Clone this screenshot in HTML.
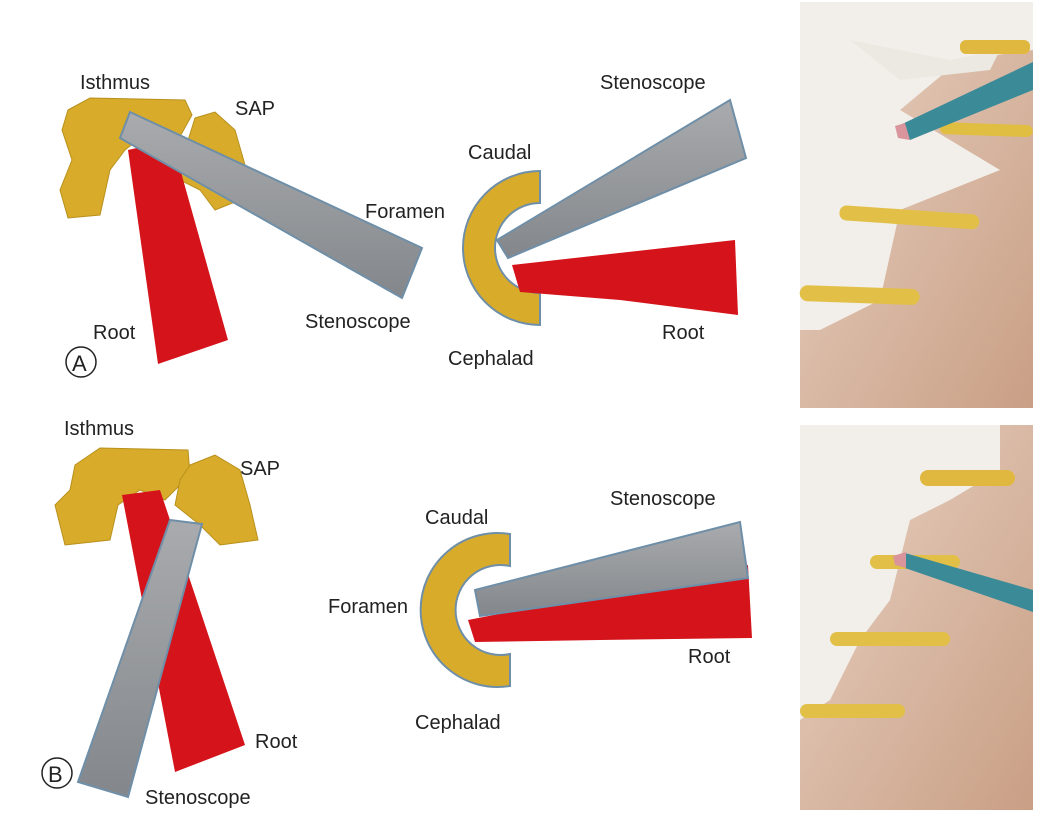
<!DOCTYPE html>
<html><head><meta charset="utf-8"><style>
html,body{margin:0;padding:0;background:#fff;}
svg{display:block;}
text{font-family:"Liberation Sans",sans-serif;font-size:20px;fill:#222;}
</style></head><body>
<svg width="1039" height="819" viewBox="0 0 1039 819" xmlns="http://www.w3.org/2000/svg">
<defs>
<linearGradient id="bg1" x1="0" y1="0" x2="1" y2="1"><stop offset="0" stop-color="#e9d3c4"/><stop offset="1" stop-color="#c99f85"/></linearGradient>
<linearGradient id="gr" x1="0" y1="0" x2="0" y2="1"><stop offset="0" stop-color="#a9abae"/><stop offset="1" stop-color="#83878b"/></linearGradient>
</defs>
<rect width="1039" height="819" fill="#fff"/>

<!-- Panel A left -->
<path d="M68,110 L90,98 L185,100 L192,115 L178,140 L150,130 L125,150 L110,170 L100,215 L68,218 L60,190 L72,160 L62,130 Z" fill="#d8ac2a" stroke="#b8901c"/>
<path d="M195,118 L215,112 L235,130 L245,165 L240,200 L215,210 L200,190 L180,180 L185,150 Z" fill="#d8ac2a" stroke="#b8901c"/>
<path d="M128,150 L172,140 L228,340 L158,364 Z" fill="#d4141a"/>
<path d="M130,112 L422,248 L402,298 L120,138 Z" fill="url(#gr)" stroke="#6f8fa8" stroke-width="2"/>
<text x="80" y="89">Isthmus</text>
<text x="235" y="115">SAP</text>
<text x="365" y="218">Foramen</text>
<text x="305" y="328">Stenoscope</text>
<text x="93" y="339">Root</text>
<circle cx="81" cy="362" r="15" fill="#fff" stroke="#222" stroke-width="1.5"/>
<text x="72" y="371" style="font-size:22px">A</text>

<!-- Panel A middle -->
<path d="M540,171 A77,77 0 1 0 540,325 L540,293 A45,45 0 1 1 540,203 Z" fill="#d8ac2a" stroke="#6f8fa8" stroke-width="2"/>
<path d="M497,240 L730,100 L746,158 L508,258 Z" fill="url(#gr)" stroke="#6f8fa8" stroke-width="2"/>
<path d="M512,265 L735,240 L738,315 L620,300 L520,292 Z" fill="#d4141a"/>
<text x="600" y="89">Stenoscope</text>
<text x="468" y="159">Caudal</text>
<text x="662" y="339">Root</text>
<text x="448" y="365">Cephalad</text>

<!-- Panel B left -->
<path d="M75,465 L100,448 L188,450 L190,475 L165,500 L140,490 L118,505 L110,540 L65,545 L55,505 L70,490 Z" fill="#d8ac2a" stroke="#b8901c"/>
<path d="M190,465 L215,455 L240,470 L250,505 L258,540 L220,545 L200,525 L175,505 L180,480 Z" fill="#d8ac2a" stroke="#b8901c"/>
<path d="M122,495 L160,490 L245,745 L175,772 Z" fill="#d4141a"/>
<path d="M170,520 L202,524 L128,797 L78,782 Z" fill="url(#gr)" stroke="#6f8fa8" stroke-width="2"/>
<text x="64" y="435">Isthmus</text>
<text x="240" y="475">SAP</text>
<text x="255" y="748">Root</text>
<text x="145" y="804">Stenoscope</text>
<circle cx="57" cy="773" r="15" fill="#fff" stroke="#222" stroke-width="1.5"/>
<text x="48" y="782" style="font-size:22px">B</text>

<!-- Panel B middle -->
<path d="M510,534 A77,77 0 1 0 510,686 L510,654 A45,45 0 1 1 510,566 Z" fill="#d8ac2a" stroke="#6f8fa8" stroke-width="2"/>
<path d="M468,620 L748,565 L752,638 L600,640 L475,642 Z" fill="#d4141a"/>
<path d="M475,590 L740,522 L748,578 L480,616 Z" fill="url(#gr)" stroke="#6f8fa8" stroke-width="2"/>
<text x="425" y="524">Caudal</text>
<text x="610" y="505">Stenoscope</text>
<text x="328" y="613">Foramen</text>
<text x="688" y="663">Root</text>
<text x="415" y="729">Cephalad</text>

<!-- Photo top -->
<rect x="800" y="2" width="233" height="406" fill="url(#bg1)"/>
<path d="M800,2 L1033,2 L1033,50 L960,60 L900,110 L1000,170 L900,210 L880,300 L820,330 L800,330 Z" fill="#f2efea"/>
<path d="M850,40 L950,60 L1000,50 L990,70 L900,80 Z" fill="#ece8e2"/>
<rect x="960" y="40" width="70" height="14" rx="6" fill="#e0b840"/>
<rect x="940" y="122" width="93" height="12" rx="6" fill="#e0be42" transform="rotate(2 940 122)"/>
<rect x="840" y="205" width="140" height="15" rx="7" fill="#e2c048" transform="rotate(4 840 205)"/>
<rect x="800" y="285" width="120" height="16" rx="8" fill="#e2c048" transform="rotate(2 800 285)"/>
<path d="M900,125 L1033,62 L1033,90 L910,140 Z" fill="#3b8a98"/>
<path d="M895,126 L905,123 L910,140 L898,138 Z" fill="#d9959b"/>

<!-- Photo bottom -->
<rect x="800" y="425" width="233" height="385" fill="url(#bg1)"/>
<path d="M800,425 L1000,425 L1000,470 L950,500 L910,520 L890,600 L860,640 L830,700 L800,720 Z" fill="#f2efea"/>
<rect x="920" y="470" width="95" height="16" rx="8" fill="#e0b840"/>
<rect x="870" y="555" width="90" height="14" rx="7" fill="#e2c048"/>
<rect x="830" y="632" width="120" height="14" rx="7" fill="#e2c048"/>
<rect x="800" y="704" width="105" height="14" rx="7" fill="#e2c048"/>
<path d="M905,553 L1033,590 L1033,612 L905,568 Z" fill="#3b8a98"/>
<path d="M893,556 L906,552 L906,568 L895,565 Z" fill="#d9959b"/>
</svg>
</body></html>
